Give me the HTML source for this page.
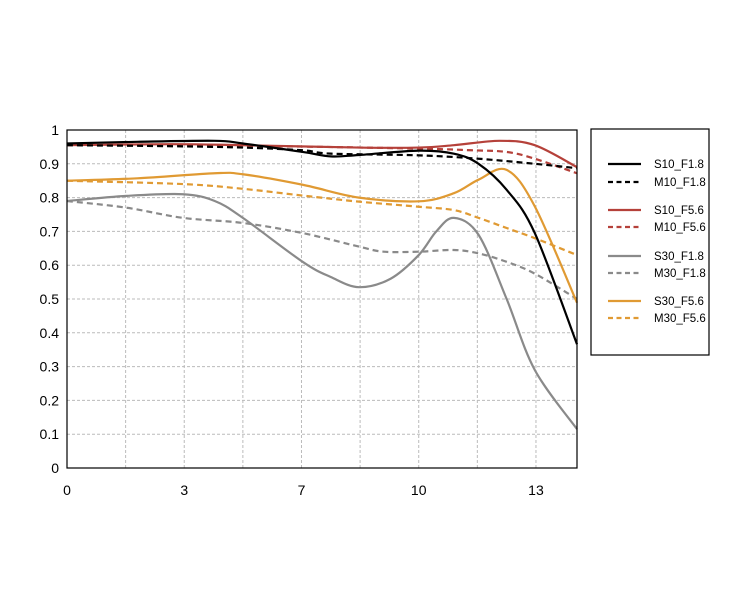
<!DOCTYPE html>
<html><head><meta charset="utf-8"><style>
html,body{margin:0;padding:0;background:#fff;}
svg{display:block;font-family:"Liberation Sans",sans-serif;}
</style></head><body>
<svg id="chart" width="750" height="600">
<g id="grid"></g>
<g id="yaxis"></g>
<g id="xaxis"></g>
<g id="series"></g>
<rect x="67" y="130" width="510" height="338" fill="none" stroke="#000" stroke-width="1.2"/>
<g id="legend">
<rect x="591" y="129" width="118" height="226" fill="#fff" stroke="#000" stroke-width="1.2"/>
</g>
</svg>
<script>
const yTicks=[0,0.1,0.2,0.3,0.4,0.5,0.6,0.7,0.8,0.9,1];
const yTickLabels=["0","0.1","0.2","0.3","0.4","0.5","0.6","0.7","0.8","0.9","1"];
const xTicks=[0,10/3,20/3,10,40/3];
const xTickLabels=["0","3","7","10","13"];
const xGrid=[5/3,10/3,5,20/3,25/3,10,35/3,40/3];
const seriesNames=["S10_F1.8","M10_F1.8","S10_F5.6","M10_F5.6","S30_F1.8","M30_F1.8","S30_F5.6","M30_F5.6"];
const s10f18=[[0,.96],[2,.965],[4.2,.968],[5,.96],[6.7,.935],[7.5,.922],[8.3,.926],[10,.939],[11,.93],[11.7,.90],[12.5,.823],[13.3,.695],[14.5,.366]];
const m10f18=[[0,.955],[3,.952],[5,.948],[6.7,.94],[7.5,.93],[10,.925],[11.7,.915],[13.3,.9],[14.5,.887]];
const s10f56=[[0,.955],[3,.958],[5,.955],[8.3,.948],[10,.948],[11,.955],[12.3,.968],[13.3,.955],[14.5,.89]];
const m10f56=[[0,.955],[3,.955],[6,.952],[10,.945],[11.5,.94],[12.5,.935],[13.3,.915],[14.5,.872]];
const s30f18=[[0,.79],[1.7,.805],[3.3,.81],[4.2,.79],[5,.74],[6.7,.61],[7.5,.565],[8.3,.535],[9.2,.56],[10,.63],[10.5,.70],[11,.74],[11.7,.69],[12.5,.50],[13.3,.29],[14.5,.115]];
const m30f18=[[0,.79],[1.7,.77],[3.3,.74],[5,.725],[6.7,.695],[8.3,.655],[9,.64],[10,.64],[11,.645],[11.7,.635],[12.5,.61],[13.3,.575],[14.5,.50]];
const s30f56=[[0,.85],[2,.857],[4.2,.872],[5,.869],[6.7,.838],[8.3,.80],[10,.789],[11,.813],[11.7,.853],[12.5,.882],[13.3,.774],[14.5,.489]];
const m30f56=[[0,.85],[3.3,.84],[5,.826],[6.7,.806],[8.3,.788],[10,.773],[11,.763],[11.7,.74],[12.5,.71],[13.3,.68],[14.5,.63]];

const NS="http://www.w3.org/2000/svg";
const X0=67,X1=577,Y0=468,Y1=130,XMAX=14.5;
function xs(v){return X0+v/XMAX*(X1-X0);}
function ys(v){return Y0-v*(Y0-Y1);}
function mk(tag,attrs,parent){const e=document.createElementNS(NS,tag);for(const k in attrs)e.setAttribute(k,attrs[k]);parent.appendChild(e);return e;}
const grid=document.getElementById('grid');
yTicks.forEach((t,i)=>{
  if(t>0&&t<1){const l=mk('line',{x1:X0,x2:X1,y1:ys(t),y2:ys(t),stroke:'#bbb','stroke-width':1,'stroke-dasharray':'3,2'},grid);
  
  }
  const tx=mk('text',{x:59,y:ys(t)+5,'text-anchor':'end','font-size':14,fill:'#000'},document.getElementById('yaxis'));
  tx.textContent=yTickLabels[i];
  
  
});
xGrid.forEach(g=>{
  const l=mk('line',{x1:xs(g),x2:xs(g),y1:Y1,y2:Y0,stroke:'#bbb','stroke-width':1,'stroke-dasharray':'3,2'},grid);
  
  
});
xTicks.forEach((t,i)=>{
  const tx=mk('text',{x:xs(t),y:495,'text-anchor':'middle','font-size':14,fill:'#000'},document.getElementById('xaxis'));
  tx.textContent=xTickLabels[i];
  
  
});
function pathD(data){
  const p=data.map(d=>[xs(d[0]),ys(d[1])]);
  let d='M'+p[0][0]+','+p[0][1];
  for(let i=0;i<p.length-1;i++){
    const a=p[Math.max(0,i-1)],b=p[i],c=p[i+1],e=p[Math.min(p.length-1,i+2)];
    const c1=[b[0]+(c[0]-a[0])/6,b[1]+(c[1]-a[1])/6],c2=[c[0]-(e[0]-b[0])/6,c[1]-(e[1]-b[1])/6];
    d+=' C'+c1[0]+','+c1[1]+' '+c2[0]+','+c2[1]+' '+c[0]+','+c[1];
  }
  return d;
}
const allData=[s10f18,m10f18,s10f56,m10f56,s30f18,m30f18,s30f56,m30f56];
const colors=['#000','#000','#b5413a','#b5413a','#8a8a8a','#8a8a8a','#e09a33','#e09a33'];
const sg=document.getElementById('series');
const order=[4,5,6,7,2,3,1,0];
order.forEach(i=>{
  const p=mk('path',{d:pathD(allData[i]),fill:'none',stroke:colors[i],'stroke-width':2.2,'stroke-dasharray':i%2?'6,4':'none'},sg);
  
  
});
const lg=document.getElementById('legend');
const ly=[164,182,210,227,256,273,301,318];
seriesNames.forEach((n,i)=>{
  const g=mk('g',{},lg);
  
  
  mk('line',{x1:608,x2:641,y1:ly[i],y2:ly[i],stroke:colors[i],'stroke-width':2.2,'stroke-dasharray':i%2?'5,3.5':'none'},g);
  const t=mk('text',{x:654,y:ly[i]+4,'font-size':11.5,fill:'#000'},g);
  t.textContent=n;
});
</script>
</body></html>
